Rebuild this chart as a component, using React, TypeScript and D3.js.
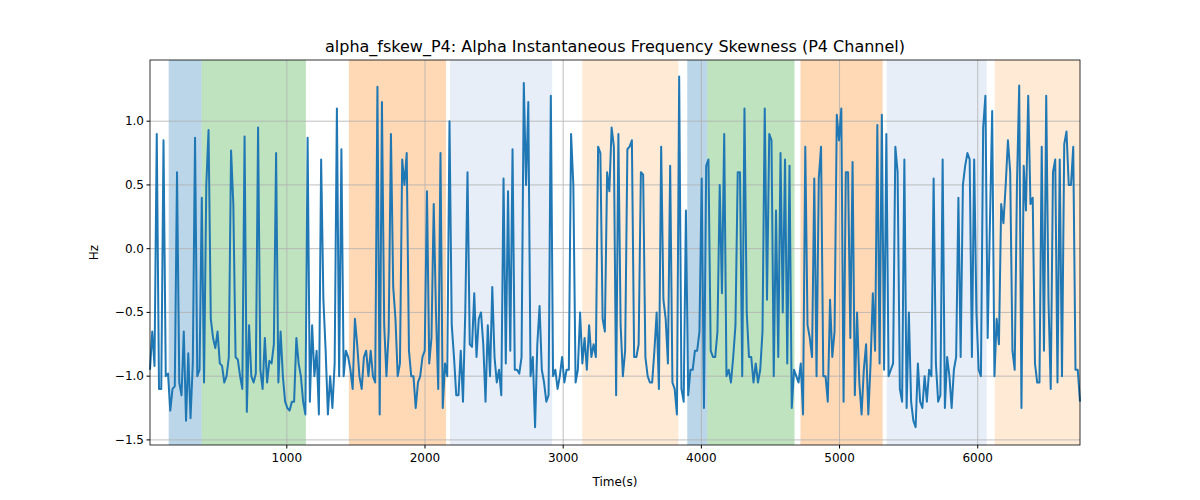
import React from 'react';
import * as d3 from 'd3';

const values: number[] = [
  -0.95, -0.65, -0.92, 0.9, -1.1, -1.1, 0.85, -1.0, -0.98, -1.27, -1.1, -1.08, 0.6, -1.05, -1.15, -0.65, -1.35, -0.82, -1.33, -0.9,
  0.87, -1.0, -0.95, 0.4, -1.05, 0.5, 0.93, -0.55, -0.7, -0.78, -0.65, -0.9, -0.92, -1.05, -1.0, -0.85, 0.77, 0.35, -0.85, -0.87,
  -1.0, -1.1, 0.88, -1.28, -0.6, -1.0, -1.05, -0.98, 0.95, -0.95, -1.1, -0.7, -1.05, -0.88, -0.9, -0.75, 0.75, -1.05, -0.65, -1.0,
  -1.2, -1.25, -1.27, -1.2, -1.2, -0.7, -0.9, -1.0, -1.2, -1.3, 0.87, -1.2, -0.6, -1.0, -0.8, -1.3, 0.7, -0.4, -0.8, -1.3,
  -1.0, -1.25, -0.9, 1.1, -1.0, 0.78, -1.0, -0.8, -0.85, -0.95, -1.1, -0.55, -0.75, -1.0, -1.1, -0.85, -0.8, -1.0, -0.8, -1.0,
  -1.05, 1.27, -1.3, 1.15, -0.6, -1.0, -0.65, 0.9, -0.3, -0.55, -1.0, -0.9, 0.7, 0.5, 0.75, -0.8, -1.0, -1.0, -1.25, -1.05,
  -1.0, -0.85, -0.8, 0.45, -0.9, -0.7, 0.35, -0.5, -1.1, 0.75, -1.25, -0.9, -1.0, 1.0, -0.6, -0.85, -1.15, -1.15, -0.8, -1.2,
  -0.5, 0.6, -0.75, -0.77, -0.35, -0.85, -0.55, -0.5, -0.75, -1.2, -0.6, -1.0, -0.3, -0.85, -1.05, -0.95, -1.15, 0.55, -0.9, 0.45,
  -0.8, 0.78, -0.95, -0.95, -0.98, -0.85, 1.3, 0.5, 1.15, -1.0, -0.85, -1.4, -0.75, -0.45, -0.95, -1.05, -1.2, -1.15, 1.2, -1.0,
  -0.95, -1.1, -1.0, -0.85, -1.05, -0.95, -0.95, 0.9, 0.5, -1.05, -0.95, -0.5, -0.9, -0.7, -0.95, -0.6, -0.85, -0.75, -0.85, 0.8,
  0.75, -0.55, -0.65, 0.6, 0.45, 0.95, 0.8, -1.15, 0.9, -0.6, -1.0, -0.8, 0.78, 0.8, 0.85, -0.85, -0.85, -0.75, 0.6, 0.58,
  -0.85, -1.0, -1.05, -1.05, -0.8, -0.5, -1.1, 0.8, -0.4, -0.55, -0.9, 0.65, -1.05, -1.1, -1.3, 1.35, -1.1, -1.2, 0.3, -1.15,
  -0.95, -0.95, -0.8, -0.8, -0.65, 0.55, -1.25, 0.65, 0.7, -0.8, -0.85, -0.85, -0.65, 0.5, -0.35, 0.9, -1.0, -0.95, -1.05, -0.85,
  -0.6, 0.6, 0.6, -1.0, 1.1, -0.5, -0.85, -0.85, -1.05, -0.9, -1.05, -0.95, -0.65, 1.1, -0.4, 0.9, 0.85, -1.0, 0.3, -0.85,
  0.75, -0.5, 0.7, -0.9, 0.65, -1.25, -0.95, -1.0, -1.05, -0.9, -1.3, 0.8, -0.6, -0.7, -0.85, 0.55, -1.0, 0.55, 0.8, -1.0,
  -1.0, -1.2, -0.4, -0.85, -0.65, 1.05, 0.85, 1.1, -1.2, 0.6, 0.6, -0.7, 0.68, -1.15, -0.5, -1.05, -1.3, -0.95, -0.75, -1.3,
  -0.9, -0.35, -0.8, 0.97, -0.9, 1.05, -0.95, 0.9, -1.0, -0.95, -0.9, 0.8, 0.6, -1.1, -1.2, 0.7, -1.25, -0.5, -1.2, -1.35,
  -1.4, -0.9, -1.2, -1.25, -1.0, -1.2, -0.95, -1.0, 0.55, -0.9, -1.2, -1.15, 0.7, -1.25, -0.85, -1.0, -1.25, -0.95, -0.85, 0.4,
  -0.85, 0.5, 0.65, 0.75, 0.7, -0.85, 0.7, -0.5, -0.95, -1.0, 0.95, 1.2, -0.7, 0.2, 1.08, -1.0, -0.55, -0.75, 0.35, 0.2,
  0.5, 0.85, 0.6, -0.8, -0.95, 0.5, 1.28, -1.25, 0.65, 0.3, 1.2, 0.35, 0.4, -0.9, -1.05, -1.05, 0.8, -0.8, 1.2, -0.4,
  -1.1, 0.6, 0.7, -1.05, 0.7, -1.0, 0.82, 0.92, 0.5, 0.5, 0.8, -0.95, -0.95, -1.2,
];
const tStart = 10;
const tEnd = 6740;

// shaded spans: [start, end, colour, opacity]
const spanStart = [145, 384, 1449, 2181, 3138, 3898, 4043, 4717, 5341, 6123];
const spanEnd = [384, 1138, 2152, 2920, 3833, 4043, 4674, 5312, 6065, 6740];
const spanColor = ['#1f77b4', '#2ca02c', '#ff7f0e', '#aec7e8', '#ffbb78', '#1f77b4', '#2ca02c', '#ff7f0e', '#aec7e8', '#ffbb78'];
const spanOpacity = [0.3, 0.3, 0.3, 0.3, 0.3, 0.3, 0.3, 0.3, 0.3, 0.3];

const xTicks = [1000, 2000, 3000, 4000, 5000, 6000];
const yTicks = [-1.5, -1.0, -0.5, 0.0, 0.5, 1.0];

const W = 1200, H = 500;
const m = { left: 150, right: 120, top: 60, bottom: 55 };

export default function App() {
  const x = d3.scaleLinear().domain([tStart, tEnd]).range([m.left, W - m.right]);
  const y = d3.scaleLinear().domain([-1.54, 1.48]).range([H - m.bottom, m.top]);
  const step = (tEnd - tStart) / (values.length - 1);
  const line = d3.line<number>().x((_, i) => x(tStart + i * step)).y(d => y(d));
  const font = 'DejaVu Sans, sans-serif';

  return (
    <svg width={W} height={H} style={{ position: 'absolute', left: 0, top: 0 }} fontFamily={font}>
      <rect width={W} height={H} fill="#fff" />
      {spanStart.map((s, i) => (
        <rect key={i} x={x(s)} y={m.top} width={x(spanEnd[i]) - x(s)} height={H - m.top - m.bottom}
          fill={spanColor[i]} opacity={spanOpacity[i]} />
      ))}
      {xTicks.map(t => (
        <line key={t} x1={x(t)} x2={x(t)} y1={m.top} y2={H - m.bottom} stroke="#b0b0b0" strokeWidth={0.8} />
      ))}
      {yTicks.map(t => (
        <line key={t} x1={m.left} x2={W - m.right} y1={y(t)} y2={y(t)} stroke="#b0b0b0" strokeWidth={0.8} />
      ))}
      <path d={line(values) ?? ''} fill="none" stroke="#1f77b4" strokeWidth={2} strokeLinejoin="round" />
      <rect x={m.left} y={m.top} width={W - m.left - m.right} height={H - m.top - m.bottom} fill="none" stroke="#000" strokeWidth={0.8} />
      {xTicks.map(t => (
        <g key={t}>
          <line x1={x(t)} x2={x(t)} y1={H - m.bottom} y2={H - m.bottom + 3.5} stroke="#000" />
          <text x={x(t)} y={H - m.bottom + 17} textAnchor="middle" fontSize={12}>{t}</text>
        </g>
      ))}
      {yTicks.map(t => (
        <g key={t}>
          <line x1={m.left - 3.5} x2={m.left} y1={y(t)} y2={y(t)} stroke="#000" />
          <text x={m.left - 6} y={y(t) + 4} textAnchor="end" fontSize={12}>{t.toFixed(1).replace('-', '\u2212')}</text>
        </g>
      ))}
      <text x={(m.left + W - m.right) / 2} y={H - 14} textAnchor="middle" fontSize={12}>Time(s)</text>
      <text transform={`translate(98,${(m.top + H - m.bottom) / 2}) rotate(-90)`} textAnchor="middle" fontSize={12}>Hz</text>
      <text x={(m.left + W - m.right) / 2} y={m.top - 8} textAnchor="middle" fontSize={16}>
        alpha_fskew_P4: Alpha Instantaneous Frequency Skewness (P4 Channel)
      </text>
    </svg>
  );
}
